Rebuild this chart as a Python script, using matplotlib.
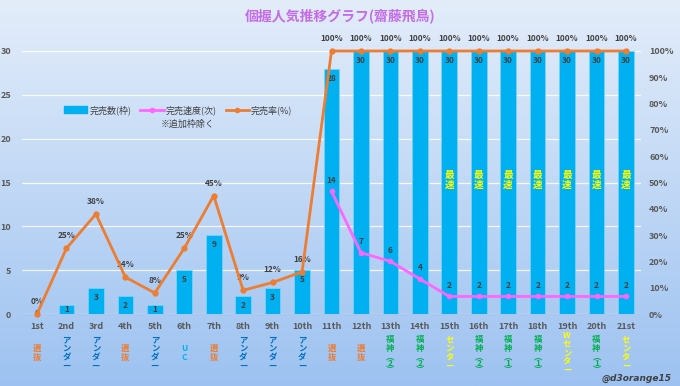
import numpy as np
import matplotlib
matplotlib.use("Agg")
import matplotlib.pyplot as plt
from matplotlib.lines import Line2D
from matplotlib.patches import Patch

plt.rcParams['font.family'] = ['Noto Sans CJK JP', 'DejaVu Sans']

rounds = ['1st', '2nd', '3rd', '4th', '5th', '6th', '7th', '8th', '9th', '10th', '11th',
          '12th', '13th', '14th', '15th', '16th', '17th', '18th', '19th', '20th', '21st']
sold = [0, 1, 3, 2, 1, 5, 9, 2, 3, 5, 28, 30, 30, 30, 30, 30, 30, 30, 30, 30, 30]
speed = [None] * 10 + [14, 7, 6, 4, 2, 2, 2, 2, 2, 2, 2]
rate = [0, 25, 38, 14, 8, 25, 45, 9, 12, 16, 100, 100, 100, 100, 100, 100, 100, 100, 100, 100, 100]
positions = ['選抜', 'アンダー', 'アンダー', '選抜', 'アンダー', 'UC', '選抜', 'アンダー', 'アンダー', 'アンダー',
             '選抜', '選抜', '福神(2)', '福神(2)', 'センター', '福神(2)', '福神(1)', '福神(1)', 'Wセンター',
             '福神(1)', 'センター']
fastest = [False] * 14 + [True] * 7

pos_colors = {'選抜': '#ed7d31', 'アンダー': '#0070c0', 'UC': '#00b0f0',
              '福神(2)': '#00b050', '福神(1)': '#00b050',
              'センター': '#ffff00', 'Wセンター': '#ffff00'}

W, H = 680, 386
fig = plt.figure(figsize=(W / 100, H / 100), dpi=100)

# background gradient
bg = fig.add_axes([0, 0, 1, 1], zorder=-10)
grad = np.linspace(0, 1, 256).reshape(-1, 1)
top = np.array([0xe3, 0xed, 0xfa]) / 255
bot = np.array([0x9d, 0xc2, 0xf1]) / 255
img = top[None, None, :] * (1 - grad[:, :, None]) + bot[None, None, :] * grad[:, :, None]
bg.imshow(img, aspect='auto', extent=[0, 1, 0, 1])
bg.axis('off')

x0, x1 = 22.3, 640.7
y0, y1 = 314, 51
ax = fig.add_axes([x0 / W, 1 - y0 / H, (x1 - x0) / W, (y0 - y1) / H])
ax.patch.set_alpha(0)
x = np.arange(len(rounds))
ax.set_xlim(-0.5, len(rounds) - 0.5)
ax.set_ylim(0, 30)
ax.set_axisbelow(True)
ax.yaxis.grid(True, color='white', linewidth=0.9, alpha=0.85)
for s in ax.spines.values():
    s.set_visible(False)
ax.set_yticks(np.arange(0, 31, 5))
ax.tick_params(axis='both', length=0, labelsize=6.5, labelcolor='#595959')
ax.tick_params(axis='y', pad=8)
ax.set_xticks(x)
ax.set_xticklabels(rounds, fontweight='bold')
ax.tick_params(axis='x', pad=6)
for lab in ax.get_yticklabels():
    lab.set_fontweight('bold')

bars = ax.bar(x, sold, width=0.53, color='#00b0f0', edgecolor='#7fd3f5', linewidth=0.5, zorder=2)
for xi, v in zip(x, sold):
    ax.text(xi, max(v - 1.1, v / 2), str(v), ha='center', va='center', fontsize=6,
            color='#404040', fontweight='bold', zorder=3)

sx = [xi for xi, s in zip(x, speed) if s is not None]
sy = [s for s in speed if s is not None]
ax.plot(sx, sy, color='#ff66ff', linewidth=2, marker='o', markersize=3, zorder=4)
for xi, s in zip(sx, sy):
    ax.annotate(str(s), (xi, s), xytext=(0, 8), textcoords='offset points', ha='center',
                va='center', fontsize=6, color='#404040', fontweight='bold', zorder=5)

for xi, f in zip(x, fastest):
    if f:
        ax.text(xi, 15.3, '最\n速', ha='center', va='center', fontsize=7, color='#ffff00',
                fontweight='bold', linespacing=0.95, zorder=5)

# category labels (vertical)
def ypix_to_axes(yp):
    return (y0 - yp) / (y0 - y1)

trans = ax.get_xaxis_transform()
for xi, p in zip(x, positions):
    col = pos_colors[p]
    if '(' in p:
        main, rest = p.split('(')
        digit = rest.rstrip(')')
        ax.text(xi, ypix_to_axes(344), '\n'.join(main), transform=trans, ha='center', va='center',
                fontsize=6, color=col, fontweight='bold', linespacing=0.95, clip_on=False)
        ax.text(xi, ypix_to_axes(364), '︵\n' + digit + '\n︶', transform=trans, ha='center',
                va='center', fontsize=6, color=col, fontweight='bold', linespacing=0.5,
                clip_on=False)
    else:
        ax.text(xi, ypix_to_axes(353), '\n'.join(p), transform=trans, ha='center', va='center',
                fontsize=6, color=col, fontweight='bold', linespacing=0.95, clip_on=False)

ax2 = ax.twinx()
ax2.set_ylim(0, 1)
for s in ax2.spines.values():
    s.set_visible(False)
ax2.set_yticks(np.arange(0, 1.01, 0.1))
ax2.set_yticklabels([f'{int(round(t * 100))}%' for t in np.arange(0, 1.01, 0.1)], fontweight='bold')
ax2.tick_params(axis='y', length=0, labelsize=6.5, labelcolor='#595959', pad=6)
r = np.array(rate) / 100
ax2.plot(x, r, color='#ed7d31', linewidth=2, marker='o', markersize=3.5, zorder=6, clip_on=False)
for xi, v in zip(x, rate):
    ax2.annotate(f'{v}%', (xi, v / 100), xytext=(0, 9), textcoords='offset points', ha='center',
                 va='center', fontsize=6, color='#404040', fontweight='bold', annotation_clip=False)

handles = [Patch(facecolor='#00b0f0', edgecolor='#00b0f0'),
           Line2D([], [], color='#ff66ff', linewidth=2, marker='o', markersize=3),
           Line2D([], [], color='#ed7d31', linewidth=2, marker='o', markersize=3)]
labels = ['完売数(枠)', '完売速度(次)', '完売率(%)']
ax2.legend(handles, labels, loc='center', bbox_to_anchor=(0.252, 0.776), ncol=3, frameon=False,
           fontsize=6.5, handlelength=2.6, handleheight=0.7, columnspacing=1.0, handletextpad=0.2,
           labelcolor='#404040')
ax2.text(0.268, 0.722, '※追加枠除く', transform=ax2.transAxes, ha='center', va='center',
         fontsize=6.5, color='#404040')

fig.text(0.5, 1 - 16 / H, '個握人気推移グラフ(齋藤飛鳥)', ha='center', va='center', fontsize=10,
         color='#c46be8', fontweight='bold')
fig.text(1 - 8 / W, 1 - 378 / H, '@d3orange15', ha='right', va='center', fontsize=6.5,
         color='#404040', style='italic', fontweight='bold', family='DejaVu Sans')

fig.savefig('out.png', dpi=100)
